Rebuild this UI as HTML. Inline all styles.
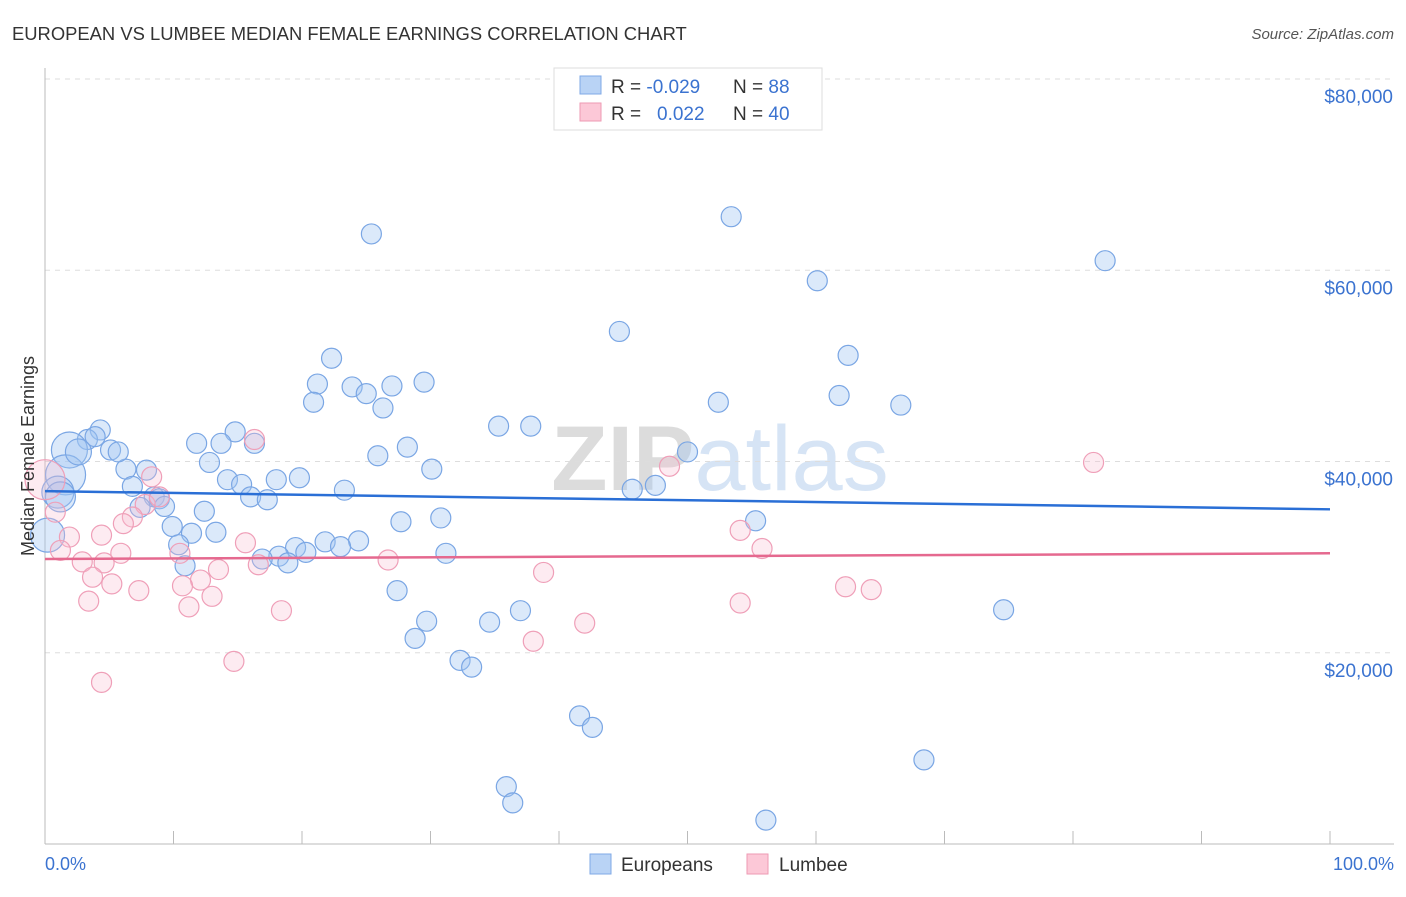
<!DOCTYPE html>
<html><head><meta charset="utf-8"><style>
body{margin:0;background:#fff;font-family:"Liberation Sans",sans-serif;}
svg text{font-family:"Liberation Sans",sans-serif;}
</style></head><body>
<svg id="chart" width="1406" height="892" viewBox="0 0 1406 892" xmlns="http://www.w3.org/2000/svg">
<text x="12" y="40" font-size="18.4" fill="#333">EUROPEAN VS LUMBEE MEDIAN FEMALE EARNINGS CORRELATION CHART</text>
<text x="1394" y="39" font-size="15" fill="#555" text-anchor="end" font-style="italic">Source: ZipAtlas.com</text>
<text x="720" y="490" font-size="92" text-anchor="middle" fill="#e4e4e4" font-family="Liberation Serif"><tspan font-weight="bold" fill="#dcdcdc">ZIP</tspan><tspan fill="#d6e4f5" font-family="Liberation Sans">atlas</tspan></text>
<g id="grid"></g>
<g id="axes"></g>
<g id="pts"></g>
<g id="trends"></g>
<text transform="translate(34,456) rotate(-90)" font-size="18" fill="#333" text-anchor="middle">Median Female Earnings</text>
<text x="45" y="870" font-size="18" fill="#3b73d0">0.0%</text>
<text x="1394" y="870" font-size="18" fill="#3b73d0" text-anchor="end">100.0%</text>
<g>
<rect x="554" y="68" width="268" height="62" fill="#fff" stroke="#ddd"/>
<rect x="580" y="76" width="21" height="18" fill="#b9d3f5" stroke="#7fa8e6"/>
<rect x="580" y="103" width="21" height="18" fill="#fcc8d7" stroke="#ee9ab3"/>
<text x="611" y="93" font-size="19" fill="#333">R = <tspan fill="#3b73d0">-0.029</tspan></text>
<text x="733" y="93" font-size="19" fill="#333">N = <tspan fill="#3b73d0"> 88</tspan></text>
<text x="611" y="120" font-size="19" fill="#333">R = <tspan fill="#3b73d0" x="657">0.022</tspan></text>
<text x="733" y="120" font-size="19" fill="#333">N = <tspan fill="#3b73d0">40</tspan></text>
</g>
<g>
<rect x="590" y="854" width="21" height="20" fill="#b9d3f5" stroke="#7fa8e6"/>
<text x="621" y="871" font-size="19" fill="#333">Europeans</text>
<rect x="747" y="854" width="21" height="20" fill="#fcc8d7" stroke="#ee9ab3"/>
<text x="779" y="871" font-size="19" fill="#333">Lumbee</text>
</g>
</svg>
<script>
const yTicks=[20000,40000,60000,80000];
const yTickLabels=["$20,000","$40,000","$60,000","$80,000"];
const euroX=[25.4,53.4,82.5,60.1,44.7,62.5,22.3,21.2,23.9,27.0,29.5,20.9,25.0,26.3,52.4,61.8,66.6,35.3,37.8,4.3,14.8,11.8,13.7,16.3,28.2,25.9,50.0,12.8,6.3,7.9,30.1,14.2,18.0,19.8,15.3,6.8,23.3,45.7,47.5,16.0,17.3,8.5,8.9,9.3,7.4,12.4,9.9,13.3,11.4,30.8,27.7,55.3,10.4,21.8,24.4,23.0,19.5,20.3,18.2,16.9,31.2,18.9,10.9,27.4,37.0,74.6,34.6,29.7,28.8,32.3,33.2,41.6,42.6,68.4,35.9,36.4,56.1,5.1,3.3,3.9,5.7,1.9,1.6,1.0,0.2,1.2,2.6];
const euroY=[63.8,65.6,61.0,58.9,53.6,51.1,50.8,48.1,47.8,47.9,48.3,46.2,47.1,45.6,46.2,46.9,45.9,43.7,43.7,43.3,43.1,41.9,41.9,41.9,41.5,40.6,41.0,39.9,39.2,39.1,39.2,38.1,38.1,38.3,37.6,37.4,37.0,37.1,37.5,36.3,36.0,36.3,36.1,35.3,35.2,34.8,33.2,32.6,32.5,34.1,33.7,33.8,31.3,31.6,31.7,31.1,31.0,30.5,30.1,29.8,30.4,29.4,29.1,26.5,24.4,24.5,23.2,23.3,21.5,19.2,18.5,13.4,12.2,8.8,6.0,4.3,2.5,41.2,42.3,42.6,41.0,41.2,38.6,36.8,32.3,36.3,41.0];
const euroR=[10,10,10,10,10,10,10,10,10,10,10,10,10,10,10,10,10,10,10,10,10,10,10,10,10,10,10,10,10,10,10,10,10,10,10,10,10,10,10,10,10,10,10,10,10,10,10,10,10,10,10,10,10,10,10,10,10,10,10,10,10,10,10,10,10,10,10,10,10,10,10,10,10,10,10,10,10,10,10,10,10,18,20,16,17,15,13];
const lumX=[0.0,48.6,81.6,8.3,16.3,4.4,1.9,0.8,7.8,6.8,6.1,8.9,54.1,5.9,10.5,15.6,55.8,1.2,2.9,4.6,26.7,16.6,3.7,13.5,12.1,38.8,5.2,10.7,7.3,13.0,62.3,64.3,3.4,11.2,18.4,54.1,42.0,38.0,14.7,4.4];
const lumY=[38.1,39.5,39.9,38.4,42.3,32.3,32.1,34.7,35.5,34.2,33.5,36.3,32.8,30.4,30.4,31.5,30.9,30.7,29.5,29.4,29.7,29.2,27.9,28.7,27.6,28.4,27.2,27.0,26.5,25.9,26.9,26.6,25.4,24.8,24.4,25.2,23.1,21.2,19.1,16.9];
const lumR=[20,10,10,10,10,10,10,10,10,10,10,10,10,10,10,10,10,10,10,10,10,10,10,10,10,10,10,10,10,10,10,10,10,10,10,10,10,10,10,10];
const euroTrend=[36.9,35.0];
const lumTrend=[29.8,30.4];
const NS="http://www.w3.org/2000/svg";
const X0=45,X1=1330,Y0=844,Y80=79;
function xs(p){return X0+(X1-X0)*p/100;}
function ys(v){return Y0-(Y0-Y80)*v/80000;}
function mk(tag,attrs,parent){const e=document.createElementNS(NS,tag);for(const k in attrs)e.setAttribute(k,attrs[k]);parent.appendChild(e);return e;}
const grid=document.getElementById('grid'),axes=document.getElementById('axes'),pts=document.getElementById('pts'),tr=document.getElementById('trends');
yTicks.forEach((t,i)=>{
 const l=mk('line',{x1:X0,x2:1394,y1:ys(t),y2:ys(t),stroke:'#ddd','stroke-dasharray':'5,5'},grid);
 
 
 const tx=mk('text',{x:1393,y:ys(t)+24,'font-size':19,fill:'#3b73d0','text-anchor':'end'},axes);
 tx.textContent=yTickLabels[i];
 
 
});
const ax=mk('line',{x1:X0,x2:X0,y1:68,y2:Y0,stroke:'#bbb'},axes);


const bx=mk('line',{x1:X0,x2:1394,y1:Y0,y2:Y0,stroke:'#bbb'},axes);


for(let i=0;i<=10;i++){
 const t=mk('line',{x1:xs(i*10),x2:xs(i*10),y1:Y0-13,y2:Y0,stroke:'#bbb'},axes);
 
 
}
function dots(X,Y,R,fill,stroke,name){
 X.forEach((x,i)=>{
  const c=mk('circle',{cx:xs(x),cy:ys(Y[i]*1000),r:R[i],fill:fill,stroke:stroke,'stroke-width':1.2},pts);
  
  
 });
}
dots(euroX,euroY,euroR,'rgba(160,196,242,0.38)','#7aa6e4','european-point');
dots(lumX,lumY,lumR,'rgba(250,190,208,0.3)','#ef9fb8','lumbee-point');
const t1=mk('line',{x1:xs(0),x2:xs(100),y1:ys(euroTrend[0]*1000),y2:ys(euroTrend[1]*1000),stroke:'#2a6fd6','stroke-width':2.5},tr);


const t2=mk('line',{x1:xs(0),x2:xs(100),y1:ys(lumTrend[0]*1000),y2:ys(lumTrend[1]*1000),stroke:'#e5698f','stroke-width':2.5},tr);


</script>
</body></html>
